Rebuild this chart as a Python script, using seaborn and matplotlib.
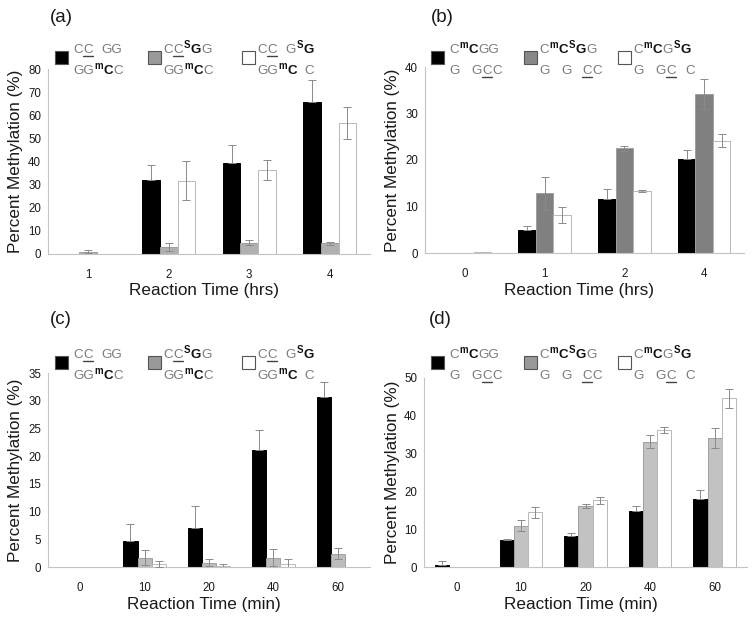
import numpy as np
import pandas as pd
import matplotlib
matplotlib.use("Agg")
import matplotlib.pyplot as plt
import seaborn as sns
from matplotlib.transforms import IdentityTransform
from matplotlib.lines import Line2D
from matplotlib.patches import Rectangle

sns.set_theme(style="white")
plt.rcParams["font.family"] = ["Liberation Sans", "DejaVu Sans"]

# ---------------- data ----------------
series = ["s1", "s2", "s3"]

a_times = ["1", "2", "3", "4"]
a_black = [0.0, 32.0, 39.3, 65.7]
a_black_err = [0.0, 6.5, 7.8, 9.4]
a_gray = [1.0, 3.2, 4.9, 4.6]
a_gray_err = [0.7, 1.7, 1.2, 0.7]
a_white = [0.0, 31.7, 36.5, 56.6]
a_white_err = [0.0, 8.5, 4.3, 6.8]

b_times = ["0", "1", "2", "4"]
b_black = [0.1, 5.0, 11.6, 20.2]
b_black_err = [0.0, 0.8, 2.1, 2.0]
b_gray = [0.1, 12.8, 22.5, 34.2]
b_gray_err = [0.0, 3.5, 0.5, 3.2]
b_white = [0.2, 8.2, 13.4, 24.1]
b_white_err = [0.0, 1.8, 0.2, 1.4]

c_times = ["0", "10", "20", "40", "60"]
c_black = [0.0, 4.7, 7.1, 21.1, 30.6]
c_black_err = [0.0, 3.1, 3.9, 3.6, 2.8]
c_gray = [0.0, 1.7, 0.8, 1.7, 2.4]
c_gray_err = [0.0, 1.4, 0.7, 1.5, 1.0]
c_white = [0.0, 0.5, 0.2, 0.5, 0.0]
c_white_err = [0.0, 0.5, 0.4, 1.0, 0.0]

d_times = ["0", "10", "20", "40", "60"]
d_black = [0.5, 7.1, 8.3, 14.9, 18.0]
d_black_err = [1.1, 0.2, 0.7, 1.3, 2.3]
d_gray = [0.1, 10.9, 16.1, 33.1, 34.1]
d_gray_err = [0.0, 1.5, 0.5, 1.7, 2.7]
d_white = [0.1, 14.5, 17.6, 36.3, 44.6]
d_white_err = [0.0, 1.5, 1.0, 0.8, 2.6]

panel_labels = ["(a)", "(b)", "(c)", "(d)"]
xlabels = ["Reaction Time (hrs)", "Reaction Time (hrs)",
           "Reaction Time (min)", "Reaction Time (min)"]
ylabel = "Percent Methylation (%)"

# legend texts: (text, style) n=normal, b=bold, s=bold superscript, u=underlined, g=gap(px)
leg_ac = [
    ([("C", "n"), ("C", "u"), ("8", "g"), ("GG", "n")],
     [("GG", "n"), ("m", "s"), ("C", "b"), ("C", "n")]),
    ([("C", "n"), ("C", "u"), ("S", "s"), ("G", "b"), ("G", "n")],
     [("GG", "n"), ("m", "s"), ("C", "b"), ("C", "n")]),
    ([("C", "n"), ("C", "u"), ("8", "g"), ("G", "n"), ("S", "s"), ("G", "b")],
     [("GG", "n"), ("m", "s"), ("C", "b"), ("7", "g"), ("C", "n")]),
]
leg_bd = [
    ([("C", "n"), ("m", "s"), ("C", "b"), ("GG", "n")],
     [("G", "n"), ("11", "g"), ("G", "n"), ("C", "u"), ("C", "n")]),
    ([("C", "n"), ("m", "s"), ("C", "b"), ("S", "s"), ("G", "b"), ("G", "n")],
     [("G", "n"), ("11", "g"), ("G", "n"), ("10", "g"), ("C", "u"), ("C", "n")]),
    ([("C", "n"), ("m", "s"), ("C", "b"), ("G", "n"), ("S", "s"), ("G", "b")],
     [("G", "n"), ("11", "g"), ("G", "n"), ("C", "u"), ("9", "g"), ("C", "n")]),
]

panels = [
    dict(times=a_times, vals=[a_black, a_gray, a_white],
         errs=[a_black_err, a_gray_err, a_white_err], ymax=80, step=10,
         gray="#b0b0b0", legend_gray="#999999", leg=leg_ac,
         rect=(48, 69, 370, 254), lab=(50, 18), legx=0, legy=53),
    dict(times=b_times, vals=[b_black, b_gray, b_white],
         errs=[b_black_err, b_gray_err, b_white_err], ymax=40, step=10,
         gray="#808080", legend_gray="#888888", leg=leg_bd,
         rect=(425, 67, 744, 253), lab=(431, 18), legx=376, legy=53),
    dict(times=c_times, vals=[c_black, c_gray, c_white],
         errs=[c_black_err, c_gray_err, c_white_err], ymax=35, step=5,
         gray="#bcbcbc", legend_gray="#999999", leg=leg_ac,
         rect=(48, 373, 370, 567), lab=(50, 320), legx=0, legy=358),
    dict(times=d_times, vals=[d_black, d_gray, d_white],
         errs=[d_black_err, d_gray_err, d_white_err], ymax=50, step=10,
         gray="#c2c2c2", legend_gray="#999999", leg=leg_bd,
         rect=(424, 378, 747, 567), lab=(429, 320), legx=376, legy=358),
]

W, H = 753, 622
fig = plt.figure(figsize=(W / 100, H / 100), dpi=100)
fig.patch.set_facecolor("white")
renderer = fig.canvas.get_renderer()
ID = IdentityTransform()

AX_COL = "#c4c4c4"
ERR_COL = "#8a8a8a"
BAR_W = 0.66


def rich(x, ybase, segs, fs=9.6):
    cx = x
    for txt, st in segs:
        if st == "g":
            cx += float(txt)
            continue
        bold = st in ("b", "s")
        size = fs * 0.72 if st == "s" else fs
        dy = 5.0 if st == "s" else 0
        color = "#111111" if bold else "#7a7a7a"
        t = fig.text(cx, H - ybase + dy, txt, transform=ID, fontsize=size,
                     fontweight="bold" if bold else "normal", color=color,
                     va="baseline", ha="left")
        w = t.get_window_extent(renderer).width
        if st == "u":
            fig.add_artist(Line2D([cx, cx + w], [H - ybase - 2.5, H - ybase - 2.5],
                                  transform=ID, color="#444444", lw=1.0))
        cx += w + 0.6


for idx, p in enumerate(panels):
    l, t, r, b = p["rect"]
    ax = fig.add_axes([l / W, 1 - b / H, (r - l) / W, (b - t) / H])
    n = len(p["times"])
    df = pd.DataFrame({
        "time": [tm for s in range(3) for tm in p["times"]],
        "series": [series[s] for s in range(3) for _ in p["times"]],
        "val": [v for s in range(3) for v in p["vals"][s]],
    })
    pal = {"s1": "#000000", "s2": p["gray"], "s3": "#ffffff"}
    sns.barplot(data=df, x="time", y="val", hue="series", order=p["times"],
                hue_order=series, palette=pal, width=BAR_W, gap=0,
                errorbar=None, legend=False, ax=ax, saturation=1,
                linewidth=0.8)
    edgecols = {"#000000": "#000000", p["gray"]: "#a0a0a0", "#ffffff": "#b8b8b8"}
    for patch in ax.patches:
        if patch is None:
            continue
        fc = matplotlib.colors.to_hex(patch.get_facecolor())
        patch.set_edgecolor(edgecols.get(fc, "#a0a0a0"))
        patch.set_linewidth(0.7)
    bw = BAR_W / 3
    for si in range(3):
        xs = np.arange(n) + (si - 1) * bw
        ys = np.array(p["vals"][si])
        es = np.array(p["errs"][si])
        m = es > 0
        if si == 0:
            yerr = [np.zeros(m.sum()), es[m]]
        else:
            yerr = es[m]
        ax.errorbar(xs[m], ys[m], yerr=yerr, fmt="none", ecolor=ERR_COL,
                    elinewidth=0.7, capsize=2.6, capthick=0.7, zorder=5)

    ax.set_xlim(-0.5, n - 0.5)
    ax.set_ylim(0, p["ymax"])
    ax.set_yticks(np.arange(0, p["ymax"] + 0.1, p["step"]))
    ax.set_xticks(np.arange(-0.5, n), minor=True)
    ax.tick_params(axis="x", which="major", length=0, labelsize=8.3,
                   pad=11, labelcolor="#1a1a1a")
    ax.tick_params(axis="x", which="minor", length=3, direction="in",
                   color=AX_COL, width=0.7)
    ax.tick_params(axis="y", which="major", length=2.5, direction="in",
                   color=AX_COL, width=0.7, labelsize=8.3, pad=5,
                   labelcolor="#1a1a1a")
    ax.set_xlabel("")
    ax.set_ylabel("")
    for s in ["top", "right"]:
        ax.spines[s].set_visible(False)
    for s in ["left", "bottom"]:
        ax.spines[s].set_color(AX_COL)
        ax.spines[s].set_linewidth(0.8)
    ax.set_facecolor("none")

    cx_ax = (l + r) / 2
    fig.text(cx_ax - 5, H - (b + 37), xlabels[idx], transform=ID,
             fontsize=12.3, ha="center", va="center", color="#1a1a1a")
    fig.text(l - 32, H - (t + b) / 2, ylabel, transform=ID, fontsize=12.3,
             rotation=90, ha="center", va="center", color="#1a1a1a")
    fig.text(p["lab"][0], H - p["lab"][1], panel_labels[idx], transform=ID,
             fontsize=13.5, ha="left", va="center", color="#1a1a1a")

    # legend
    lx = p["legx"]
    ly = p["legy"]
    boxes = [55, 148, 242]
    txs = [73, 163, 257]
    fills = ["#000000", p["legend_gray"], "#ffffff"]
    for k in range(3):
        fig.add_artist(Rectangle((lx + boxes[k], H - (ly - 2) - 13), 13, 13,
                                 transform=ID, facecolor=fills[k],
                                 edgecolor="#555555", lw=0.8))
        rich(lx + txs[k], ly, p["leg"][k][0])
        rich(lx + txs[k], ly + 21, p["leg"][k][1])

fig.savefig("out.png", dpi=100, facecolor="white")
